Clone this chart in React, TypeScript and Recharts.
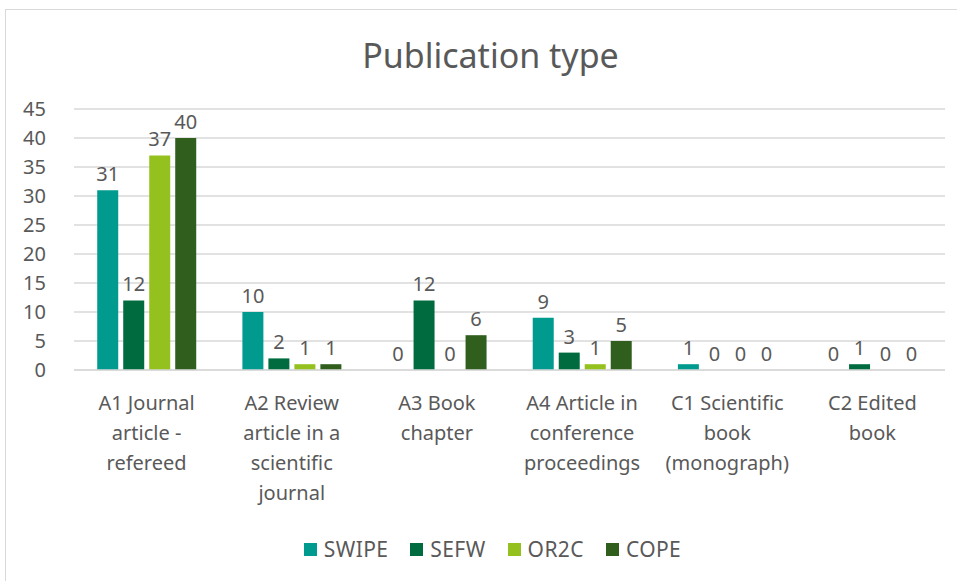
import { Bar, BarChart, CartesianGrid, LabelList, Legend, XAxis, YAxis } from "recharts";

const categories = [
    "A1 Journal\narticle -\nrefereed",
    "A2 Review\narticle in a\nscientific\njournal",
    "A3 Book\nchapter",
    "A4 Article in\nconference\nproceedings",
    "C1 Scientific\nbook\n(monograph)",
    "C2 Edited\nbook",
];
const seriesNames = ["SWIPE", "SEFW", "OR2C", "COPE"];
const seriesColors = ["#009A8F", "#006B3F", "#95C11F", "#2F5E1D"];
const swipe = [31, 10, 0, 9, 1, 0];
const sefw = [12, 2, 12, 3, 0, 1];
const or2c = [37, 1, 0, 1, 0, 0];
const cope = [40, 1, 6, 5, 0, 0];
const yTicks = [0, 5, 10, 15, 20, 25, 30, 35, 40, 45];

const data = categories.map((name, i) => ({
    name,
    SWIPE: swipe[i],
    SEFW: sefw[i],
    OR2C: or2c[i],
    COPE: cope[i],
}));

const FONT = "'Noto Sans', 'Open Sans', sans-serif";
const TEXT = "#595959";

const CategoryTick = (props: any) => {
    const { x, y, payload } = props;
    const lines = String(payload.value).split("\n");
    return (
        <text x={x} y={y} textAnchor="middle" fill={TEXT} fontSize={20} fontFamily={FONT}>
            {lines.map((l, i) => (
                <tspan key={i} x={x} dy={i === 0 ? 32 : 30}>{l}</tspan>
            ))}
        </text>
    );
};

const ValueLabel = (props: any) => {
    const { x, y, width, value } = props;
    return (
        <text x={x + width / 2} y={y - 9} textAnchor="middle" fill={TEXT} fontSize={20} fontFamily={FONT}>
            {value}
        </text>
    );
};

const LegendContent = () => (
    <div style={{ display: "flex", justifyContent: "center", fontFamily: FONT, fontSize: 21, color: TEXT, letterSpacing: 0.4 }}>
        {seriesNames.map((s, i) => (
            <span key={s} style={{ display: "flex", alignItems: "center", marginRight: i < 3 ? 22 : 0 }}>
                <span style={{ width: 13, height: 13, background: seriesColors[i], display: "inline-block", marginRight: 7 }} />
                {s}
            </span>
        ))}
    </div>
);

// zero-valued bars get a hair-thin rect so their "0" labels still render
const zeroSize = (value: any) => (value === 0 ? 0.01 : 0);

export default function App() {
    return (
        <div style={{ position: "absolute", left: 0, top: 0, width: 957, height: 581, background: "#fff" }}>
            <div style={{ position: "absolute", left: 5, top: 9, width: 960, height: 580, border: "1px solid #d9d9d9", boxSizing: "border-box" }} />
            <div style={{ position: "absolute", left: 24, top: 32, width: 933, textAlign: "center", fontFamily: FONT, fontSize: 34, color: TEXT }}>
                Publication type
            </div>
            <BarChart
                width={957}
                height={581}
                data={data}
                margin={{ top: 109, right: 12, left: 0, bottom: 61 }}
                barGap={5}
                barCategoryGap="16%"
                style={{ position: "absolute", left: 0, top: 0 }}
            >
                <CartesianGrid vertical={false} stroke="#d9d9d9" strokeWidth={1.5} />
                <XAxis dataKey="name" tick={<CategoryTick />} tickLine={false} axisLine={{ stroke: "#d9d9d9", strokeWidth: 1.5 }} height={122} interval={0} />
                <YAxis domain={[0, 45]} ticks={yTicks} interval={0} width={74} tickLine={false} axisLine={false} tickMargin={22}
                    tick={{ fill: TEXT, fontSize: 20, fontFamily: FONT }} />
                <Legend verticalAlign="bottom" content={<LegendContent />} wrapperStyle={{ bottom: 18, left: 20 }} />
                {seriesNames.map((s, i) => (
                    <Bar key={s} dataKey={s} fill={seriesColors[i]} minPointSize={zeroSize} isAnimationActive={false}>
                        <LabelList dataKey={s} content={<ValueLabel />} />
                    </Bar>
                ))}
            </BarChart>
        </div>
    );
}
